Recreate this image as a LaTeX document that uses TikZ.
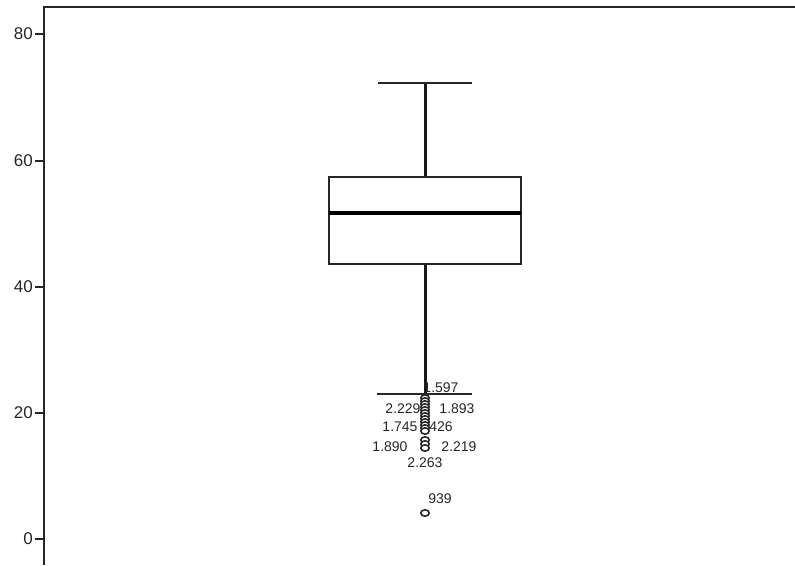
\documentclass[tikz,border=0pt]{standalone}
\usepackage{fontspec}
\setmainfont{Liberation Sans}
\begin{document}
\begin{tikzpicture}[x=1pt,y=-1pt,
  axisline/.style={line width=2.5pt,draw=black!85},
  ticklab/.style={anchor=east,inner sep=0pt,font=\fontsize{17}{17}\selectfont,text=black!85},
  outlab/.style={inner sep=0pt,font=\fontsize{14}{14}\selectfont,text=black!85},
  boxline/.style={line width=2pt,draw=black!85},
  whisk/.style={line width=3pt,draw=black!90},
  capline/.style={line width=2pt,draw=black!85},
  outl/.style={draw=black!85,line width=1.6pt,fill=white}]
\useasboundingbox (0,0) rectangle (795,565);
% axes
\coordinate (tl) at (44,7);
\coordinate (tr) at (795,7);
\coordinate (bl) at (44,565);
\draw[axisline] (bl) -- (tl) -- (tr);
% ticks
\foreach \v/\yy in {80/34,60/161,40/287,20/413,0/539}{
  \coordinate (t\v) at (44,\yy);
  \coordinate (s\v) at (35,\yy);
  \draw[line width=2.5pt,draw=black!85] (s\v) -- (t\v);
  \node[ticklab] (l\v) at (33,\yy) {\v};
}
% box
\node[boxline,minimum width=192pt,minimum height=87pt,inner sep=0pt] (box) at (425,220.5) {};
\coordinate (ml) at (329,213);
\coordinate (mr) at (521,213);
\draw[line width=3.5pt,draw=black] (ml) -- (mr);
% whiskers
\coordinate (wtop) at (425,83);
\coordinate (wbot) at (425,394);
\draw[whisk] (box.north) -- (wtop);
\draw[whisk] (box.south) -- (wbot);
\coordinate (c1l) at (378,83);
\coordinate (c1r) at (472,83);
\draw[capline] (c1l) -- (c1r);
\coordinate (c2l) at (377,394);
\coordinate (c2r) at (472,394);
\draw[capline] (c2l) -- (c2r);
% outliers
\foreach \yy in {398,401,404,407,410,413,416,419,422,425,428,431,440,444,448}{
  \draw[outl] (425,\yy) ellipse (4.2 and 3.2);
}
\draw[outl] (425,513) ellipse (4.2 and 3.2) node (o939) {};
% outlier labels
\node[outlab] (a1597) at (441,388) {1.597};
\node[outlab] (a2229) at (403,409) {2.229};
\node[outlab] (a1893) at (457,409) {1.893};
\node[outlab] (a1745) at (400,427) {1.745};
\node[outlab] (a426) at (441,427) {426};
\node[outlab] (a1890) at (390,447) {1.890};
\node[outlab] (a2219) at (459,447) {2.219};
\node[outlab] (a2263) at (425,463) {2.263};
\node[outlab] (a939) at (440,499) {939};
\end{tikzpicture}
\end{document}
